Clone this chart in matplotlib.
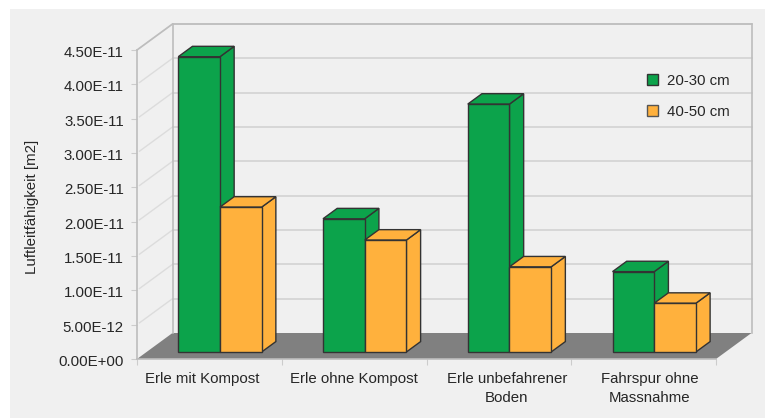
import matplotlib
matplotlib.use("Agg")
import matplotlib.pyplot as plt
from matplotlib.patches import Polygon, Rectangle, Patch
from matplotlib.ticker import FixedLocator
from matplotlib.transforms import ScaledTranslation

plt.rcParams['font.family'] = ['Liberation Sans', 'DejaVu Sans']

categories = ["Erle mit Kompost", "Erle ohne Kompost", "Erle unbefahrener\nBoden", "Fahrspur ohne\nMassnahme"]
series_names = ["20-30 cm", "40-50 cm"]
values_20_30 = [4.30e-11, 1.94e-11, 3.61e-11, 1.17e-11]
values_40_50 = [2.11e-11, 1.63e-11, 1.24e-11, 0.71e-11]
y_ticks = [0, 5e-12, 1e-11, 1.5e-11, 2e-11, 2.5e-11, 3e-11, 3.5e-11, 4e-11, 4.5e-11]
y_labels = ["0.00E+00", "5.00E-12", "1.00E-11", "1.50E-11", "2.00E-11", "2.50E-11",
            "3.00E-11", "3.50E-11", "4.00E-11", "4.50E-11"]
y_title = "Luftleitfähigkeit [m2]"

GREEN, ORANGE = "#0ca34b", "#ffb13d"
EDGE = "#333333"
PANEL = "#f0f0f0"
WALL_LINE = "#bdbdbd"
GRID = "#d2d2d2"
FLOOR = "#808080"
FS = 10.8
TEXT = "#262626"

W, H = 765, 418
fig = plt.figure(figsize=(W / 100, H / 100), dpi=100, facecolor="white")
fig.patches.append(Rectangle((10 / W, 0), (W - 10) / W, (H - 9) / H, transform=fig.transFigure,
                             facecolor=PANEL, edgecolor="none", zorder=-5))

L, R, B, T = 137, 716, 359, 50
ax = fig.add_axes([L / W, (H - B) / H, (R - L) / W, (B - T) / H])
ax.patch.set_alpha(0)
ymax = y_ticks[-1]
ax.set_xlim(0, len(categories))
ax.set_ylim(0, ymax)

px_x = len(categories) / (R - L)
px_y = ymax / (B - T)
DX, DY = 35.5, 26.0


def proj(x, y, d=0.0):
    """Oblique projection: d=0 front plane, d=1 back wall."""
    return (x + d * DX * px_x, y + d * DY * px_y)


def poly(pts, **kw):
    kw.setdefault("clip_on", False)
    ax.add_patch(Polygon(pts, closed=True, **kw))


n = len(categories)
# floor
poly([proj(0, 0), proj(n, 0), proj(n, 0, 1), proj(0, 0, 1)], facecolor=FLOOR, edgecolor="none", zorder=1)
# walls and gridlines
for t in y_ticks[1:]:
    ax.plot(*zip(proj(0, t, 0.07), proj(0, t, 1)), color="#dcdcdc", lw=1.0, zorder=1, clip_on=False)
    ax.plot(*zip(proj(0, t, 1), proj(n, t, 1)), color=GRID, lw=1.2, zorder=1, clip_on=False)
ax.plot(*zip(proj(0, 0, 1), proj(0, ymax, 1)), color=WALL_LINE, lw=1.2, zorder=1.5, clip_on=False)
ax.plot(*zip(proj(n, 0, 1), proj(n, ymax, 1)), color=WALL_LINE, lw=1.2, zorder=1.5, clip_on=False)
ax.plot(*zip(proj(0, ymax, 0), proj(0, ymax, 1), proj(n, ymax, 1)), color=WALL_LINE, lw=1.2, zorder=1.5, clip_on=False)

# bars
BAR_W = 41.7 * px_x
D0, D1 = 0.27, 0.67
SHIFT = 1.0 * px_x


def bar3d(x0, v, color, z):
    x1 = x0 + BAR_W
    kw = dict(facecolor=color, edgecolor=EDGE, lw=1.0, joinstyle="miter", zorder=z)
    poly([proj(x1, 0, D0), proj(x1, 0, D1), proj(x1, v, D1), proj(x1, v, D0)], **kw)
    poly([proj(x0, v, D0), proj(x1, v, D0), proj(x1, v, D1), proj(x0, v, D1)], **kw)
    poly([proj(x0, 0, D0), proj(x1, 0, D0), proj(x1, v, D0), proj(x0, v, D0)], **kw)


for i, (a, b) in enumerate(zip(values_20_30, values_40_50)):
    bar3d(i + 0.5 - BAR_W + SHIFT, a, GREEN, 3 + i)
    bar3d(i + 0.5 + SHIFT, b, ORANGE, 3.5 + i)

# axes
for s in ("top", "right"):
    ax.spines[s].set_visible(False)
for s in ("left", "bottom"):
    ax.spines[s].set_color(WALL_LINE)
    ax.spines[s].set_linewidth(1.2)
    ax.spines[s].set_zorder(2)
ax.set_yticks(y_ticks)
ax.set_yticklabels(y_labels, fontsize=FS, color=TEXT)
ax.tick_params(axis="y", length=4, width=0.8, color="#cccccc", pad=5.5)
for lab in ax.get_yticklabels():
    lab.set_transform(lab.get_transform() + ScaledTranslation(0, -1.5 / 100, fig.dpi_scale_trans))
ax.set_xticks([i + 0.5 for i in range(n)])
ax.set_xticklabels(categories, fontsize=FS, color=TEXT, linespacing=1.4)
ax.tick_params(axis="x", which="major", length=0, pad=9.5)
ax.xaxis.set_minor_locator(FixedLocator(list(range(n + 1))))
ax.tick_params(axis="x", which="minor", length=4, width=0.8, color="#cccccc")
# the reference's category labels sit slightly off their tick centres
for lab, off in zip(ax.get_xticklabels(), [-7, 0, 8, 6]):
    lab.set_transform(lab.get_transform() + ScaledTranslation(off / 100, 0, fig.dpi_scale_trans))
fig.text(32 / W, 1 - 207 / H, y_title, rotation=90, ha="center", va="center", fontsize=FS, color=TEXT)

# legend
handles = [Patch(facecolor=GREEN, edgecolor=EDGE, lw=1.0, label=series_names[0]),
           Patch(facecolor=ORANGE, edgecolor="#555555", lw=1.0, label=series_names[1])]
leg = ax.legend(handles=handles, frameon=False, fontsize=FS, handlelength=0.75, handleheight=0.75,
                handletextpad=0.6, labelspacing=1.13, borderpad=0, borderaxespad=0,
                loc="upper left", bbox_to_anchor=(647 / W, 1 - 74 / H), bbox_transform=fig.transFigure)
for t in leg.get_texts():
    t.set_color(TEXT)

fig.savefig("out.png", dpi=100, facecolor="white")
